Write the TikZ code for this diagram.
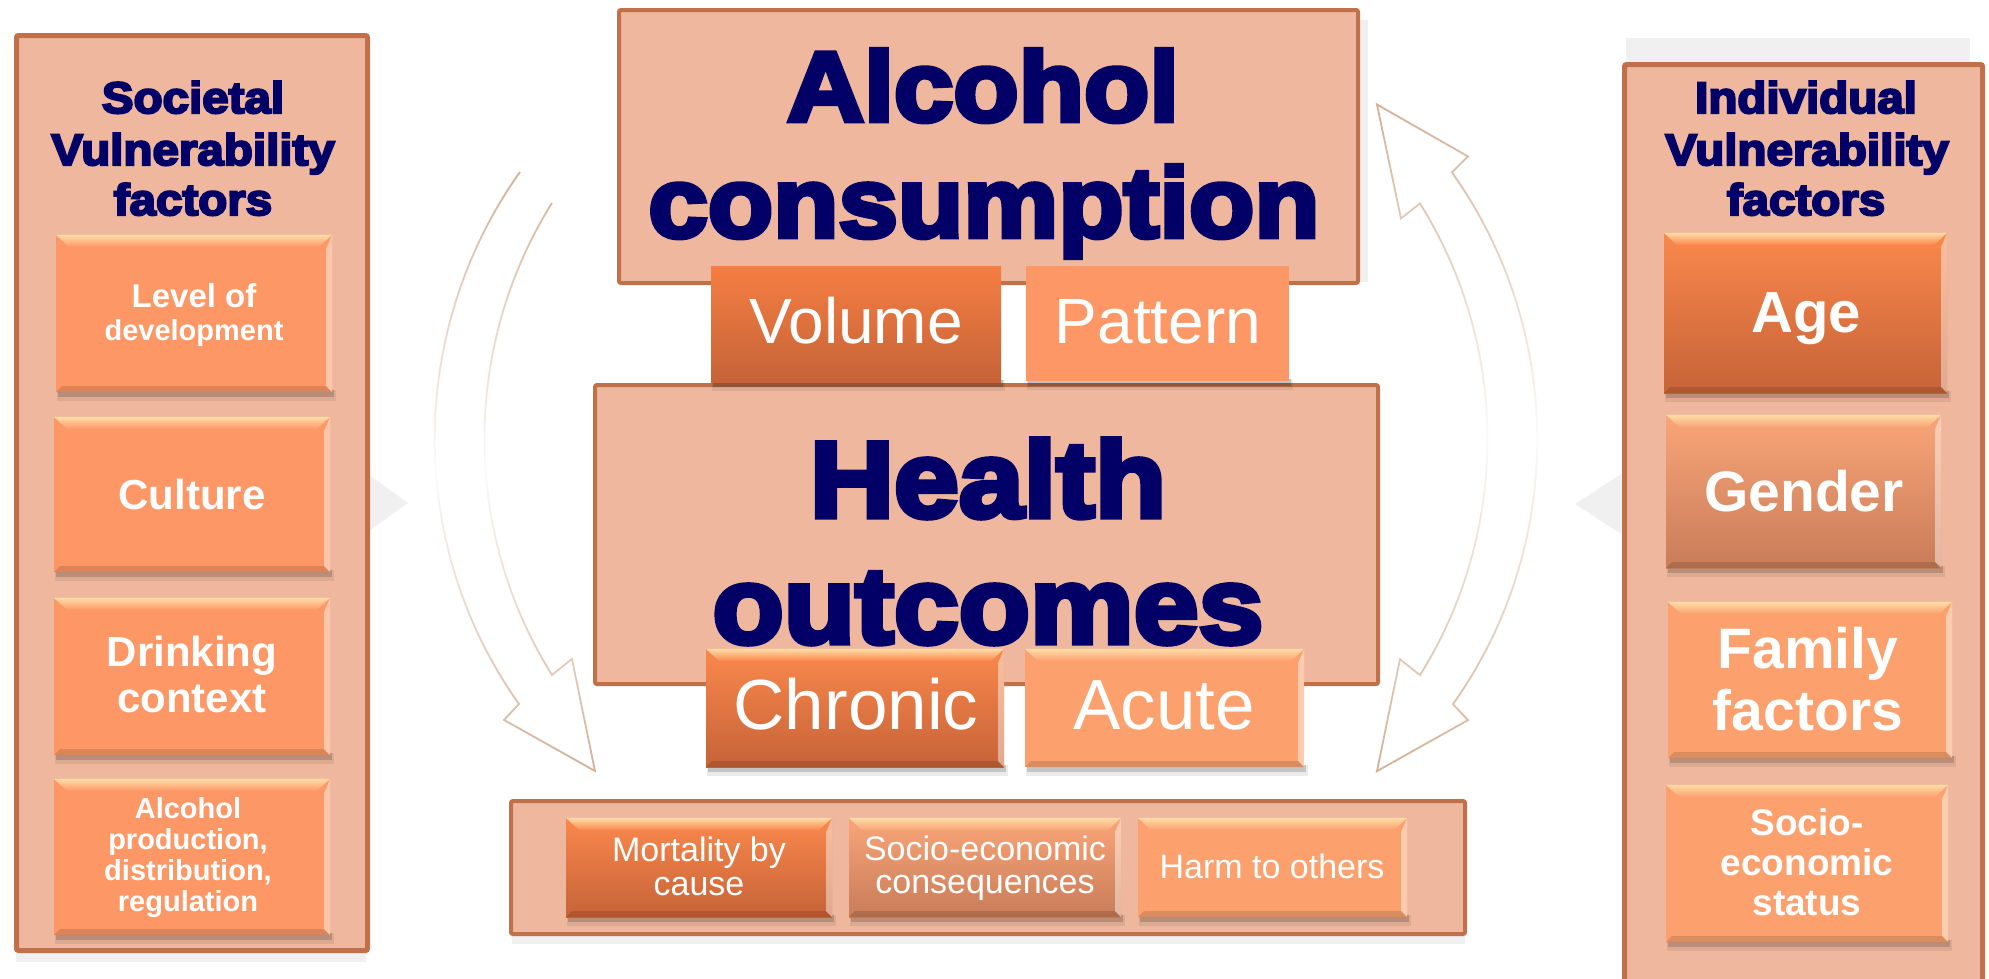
\documentclass[tikz,border=0pt]{standalone}
\usepackage{fontspec}
\setmainfont{Liberation Sans}
\newfontfamily\heavy{Liberation Sans Bold}[FakeBold=5,FakeStretch=1.08]
\usetikzlibrary{calc,fadings}

\definecolor{panelfill}{RGB}{239,184,158}
\definecolor{panelline}{RGB}{192,113,74}
\definecolor{navy}{RGB}{2,0,102}
\definecolor{lightbox}{RGB}{253,152,102}
\definecolor{palebox}{RGB}{252,161,109}
\definecolor{darktop}{RGB}{250,136,76}
\definecolor{darkbot}{RGB}{198,99,56}
\definecolor{midtop}{RGB}{249,165,120}
\definecolor{midbot}{RGB}{200,124,88}
\definecolor{voltop}{RGB}{245,126,66}
\definecolor{bevel}{RGB}{255,220,168}
\definecolor{arrowline}{RGB}{212,176,150}
\definecolor{ghost}{RGB}{240,240,240}

\tikzfading[name=midfade, top color=transparent!0, bottom color=transparent!0, middle color=transparent!95]

\newcommand{\fs}[1]{\fontsize{#1}{#1}\selectfont}

% bevelled button: name, x1, y1, x2, y2, fill options, colour under the bevel
\newcommand{\bevelbox}[7]{%
  \fill[black,opacity=0.08] (#2+1,#5-2) rectangle (#4+4,#5+9);
  \fill[black,opacity=0.16] (#2+2,#5-2) rectangle (#4+2,#5+5);
  \node[rectangle, inner sep=0pt, minimum width={(#4-#2)*1pt}, minimum height={(#5-#3)*1pt}, #6]
    (#1) at ({(#2+#4)/2},{(#3+#5)/2}) {};
  \shade[top color=bevel, bottom color=#7] (#1.north west) -- (#1.north east) -- ++(-13,12)
    -- ($(#1.north west)+(13,12)$) -- cycle;
  \fill[white,opacity=0.45] (#1.north east) -- ++(-6,14) -- ($(#1.south east)+(-6,-6)$)
    -- (#1.south east) -- cycle;
  \fill[black,opacity=0.13] (#1.south west) -- ++(6,-6) -- ($(#1.south east)+(-6,-6)$)
    -- (#1.south east) -- cycle;
}
% plain button with a drop shadow
\newcommand{\flatbox}[6]{%
  \fill[black,opacity=0.08] (#2+1,#5-2) rectangle (#4+4,#5+9);
  \fill[black,opacity=0.18] (#2+2,#5-2) rectangle (#4+2,#5+5);
  \node[rectangle, inner sep=0pt, minimum width={(#4-#2)*1pt}, minimum height={(#5-#3)*1pt}, #6]
    (#1) at ({(#2+#4)/2},{(#3+#5)/2}) {};
}

\tikzset{
  panel/.style={rectangle, inner sep=0pt, draw=panelline, fill=panelfill, line width=5pt, rounded corners=2pt},
  cbox/.style={rectangle, inner sep=0pt, draw=panelline, fill=panelfill, line width=4pt, rounded corners=2pt},
  ttl/.style={anchor=base, inner sep=0pt, text=navy},
  wtx/.style={anchor=base, inner sep=0pt, text=white},
  darkfill/.style={top color=darktop, bottom color=darkbot},
  midfill/.style={top color=midtop, bottom color=midbot},
  cycarrow/.style={draw=arrowline, line width=1.8pt, line join=miter, path fading=midfade},
}

\begin{document}
\begin{tikzpicture}[x=1pt,y=-1pt]
\useasboundingbox (0,0) rectangle (1989,978);
\fill[white] (0,0) rectangle (1989,978);

% pale pointers behind the two side panels
\fill[ghost] (355,465) -- (408,503) -- (355,541) -- cycle;
\fill[ghost] (1640,462) -- (1575,504) -- (1640,546) -- cycle;

% soft shadows
\fill[ghost] (16,953) rectangle (366,962);
\fill[ghost] (1626,38) rectangle (1970,62);
\fill[ghost] (1360,20) rectangle (1368,282);
\fill[ghost] (512,936) rectangle (1465,944);

% side panels
\node[panel, minimum width=351pt, minimum height=915pt] (soc) at (192,493) {};
\node[panel, minimum width=358pt, minimum height=936pt] (ind) at (1803.5,532.5) {};

\node[ttl, font={\heavy\fs{44}}] (soc1) at (193,113) {Societal};
\node[ttl, font={\heavy\fs{44}}] (soc2) at (193,165) {Vulnerability};
\node[ttl, font={\heavy\fs{44}}] (soc3) at (193,215) {factors};

\node[ttl, font={\heavy\fs{44}}] (ind1) at (1806,113) {Individual};
\node[ttl, font={\heavy\fs{44}}] (ind2) at (1807,165) {Vulnerability};
\node[ttl, font={\heavy\fs{44}}] (ind3) at (1806,215) {factors};

% societal factors
\bevelbox{lvl}{56}{235}{332}{392}{fill=lightbox}{lightbox}
\node[wtx, font={\bfseries\fs{33}}] (lvl1) at (194,307) {Level of};
\node[wtx, font={\bfseries\fs{29}}] (lvl2) at (194,340) {development};

\bevelbox{cult}{54}{417}{330}{572}{fill=lightbox}{lightbox}
\node[wtx, font={\bfseries\fs{42}}] (cult1) at (192,509) {Culture};

\bevelbox{drink}{54}{598}{330}{755}{fill=lightbox}{lightbox}
\node[wtx, font={\bfseries\fs{42}}] (drink1) at (192,666) {Drinking};
\node[wtx, font={\bfseries\fs{42}}] (drink2) at (192,712) {context};

\bevelbox{prod}{54}{779}{330}{935}{fill=lightbox}{lightbox}
\node[wtx, font={\bfseries\fs{29}}] (prod1) at (188,818) {Alcohol};
\node[wtx, font={\bfseries\fs{29}}] (prod2) at (188,849) {production,};
\node[wtx, font={\bfseries\fs{29}}] (prod3) at (188,880) {distribution,};
\node[wtx, font={\bfseries\fs{29}}] (prod4) at (188,911) {regulation};

% individual factors
\bevelbox{age}{1664}{233}{1947}{393}{darkfill}{darktop}
\node[wtx, font={\bfseries\fs{58}}] (age1) at (1806,332) {Age};

\bevelbox{gend}{1666}{415}{1941}{568}{midfill}{midtop}
\node[wtx, font={\bfseries\fs{57}}] (gend1) at (1804,511) {Gender};

\bevelbox{fam}{1668}{602}{1952}{758}{fill=palebox}{palebox}
\node[wtx, font={\bfseries\fs{57}}] (fam1) at (1808,668) {Family};
\node[wtx, font={\bfseries\fs{57}}] (fam2) at (1808,730) {factors};

\bevelbox{ses}{1666}{785}{1948}{942}{fill=palebox}{palebox}
\node[wtx, font={\bfseries\fs{37}}] (ses1) at (1807,835) {Socio-};
\node[wtx, font={\bfseries\fs{37}}] (ses2) at (1807,875) {economic};
\node[wtx, font={\bfseries\fs{37}}] (ses3) at (1807,915) {status};

% alcohol consumption
\node[cbox, minimum width=739pt, minimum height=273pt] (cons) at (988.5,146.5) {};
\node[ttl, font={\heavy\fs{99}}] (cons1) at (983,121) {Alcohol};
\node[ttl, font={\heavy\fs{99}}] (cons2) at (984,237) {consumption};

% health outcomes
\node[cbox, minimum width=783pt, minimum height=299pt] (hlth) at (986.5,534.5) {};
\node[ttl, font={\heavy\fs{108}}] (hlth1) at (988,517) {Health};
\node[ttl, font={\heavy\fs{108}}] (hlth2) at (988,643) {outcomes};

\flatbox{vol}{711}{266}{1001}{382}{top color=voltop, bottom color=darkbot}
\node[wtx, font=\fs{64}] (vol1) at (856,343) {Volume};
\flatbox{patt}{1026}{266}{1289}{381}{fill=lightbox}
\node[wtx, font=\fs{64}] (patt1) at (1158,343) {Pattern};

\bevelbox{chron}{706}{649}{1004}{767}{darkfill}{darktop}
\node[wtx, font=\fs{71}] (chron1) at (856,729) {Chronic};
\bevelbox{acute}{1025}{649}{1304}{767}{fill=palebox}{palebox}
\node[wtx, font=\fs{71}] (acute1) at (1164,729) {Acute};

% consequences
\node[cbox, minimum width=954pt, minimum height=133pt] (cons3) at (988,867.5) {};
\bevelbox{mort}{566}{818}{832}{917}{darkfill}{darktop}
\node[wtx, font=\fs{34}] (mort1) at (699,861) {Mortality by};
\node[wtx, font=\fs{34}] (mort2) at (699,895) {cause};
\bevelbox{soce}{849}{818}{1121}{917}{midfill}{midtop}
\node[wtx, font=\fs{34}] (soce1) at (985,860) {Socio-economic};
\node[wtx, font=\fs{34}] (soce2) at (985,893) {consequences};
\bevelbox{harm}{1138}{818}{1407}{917}{fill=palebox}{palebox}
\node[wtx, font=\fs{34}] (harm1) at (1272,878) {Harm to others};

% cycle arrows
\path[cycarrow] (552,203) .. controls (462,347) and (462,531) .. (552,675)
  -- (572,659) -- (595,771) -- (504,720) -- (519,704)
  .. controls (406,545) and (407,331) .. (520,172);
\path[cycarrow] (1377,104) -- (1468,156) -- (1452,172)
  .. controls (1565,331) and (1566,545) .. (1453,704)
  -- (1468,720) -- (1377,771) -- (1400,659) -- (1420,675)
  .. controls (1510,531) and (1510,347) .. (1420,203)
  -- (1401,218) -- cycle;
\end{tikzpicture}
\end{document}
